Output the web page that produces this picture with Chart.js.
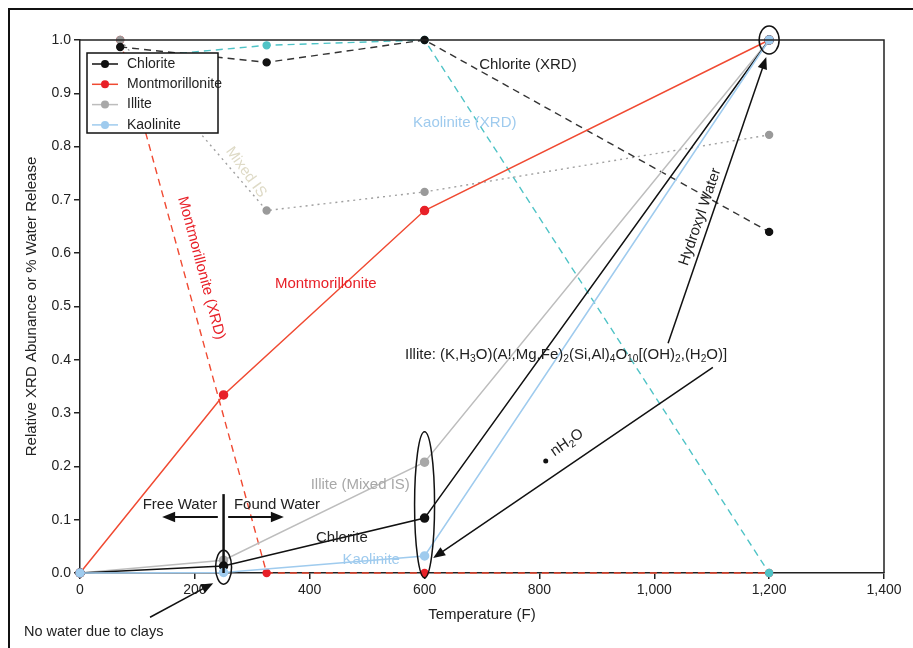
<!DOCTYPE html>
<html>
<head>
<meta charset="utf-8">
<script src="https://cdn.jsdelivr.net/npm/chart.js@4.4.1/dist/chart.umd.min.js"></script>
<style>
  html, body { margin: 0; padding: 0; background: #fff; }
  #wrap { width: 913px; height: 648px; }
</style>
</head>
<body>
<div id="wrap"><canvas id="clayChart" width="913" height="648"></canvas></div>
<script>
// 数据：温度 (F)
const waterTemps = [0, 250, 600, 1200];
const xrdTemps = [70, 325, 600, 1200];

// 水释放（实线）
const chloriteWater = [0, 0.013, 0.103, 1.0];
const montWater = [0, 0.334, 0.68, 1.0];
const illiteWater = [0, 0.024, 0.208, 1.0];
const kaoliniteWater = [0, 0.001, 0.032, 1.0];

// XRD 丰度（虚线）
const chloriteXrd = [0.987, 0.958, 1.0, 0.64];
const montXrd = [1.0, 0, 0, 0];
const illiteXrd = [1.0, 0.68, 0.715, 0.822];
const kaoliniteXrd = [0.965, 0.99, 1.0, 0];

const seriesNames = ['Chlorite', 'Montmorillonite', 'Illite', 'Kaolinite'];
const xTicks = [0, 200, 400, 600, 800, 1000, 1200, 1400];
const yTicks = [0, 0.1, 0.2, 0.3, 0.4, 0.5, 0.6, 0.7, 0.8, 0.9, 1.0];

const FONT = "'Liberation Sans', Arial, Helvetica, sans-serif";
const C_BLACK = '#111111';
const C_RED = '#f04a32';
const C_REDPT = '#e82028';
const C_GRAY = '#bdbdbd';
const C_GRAYPT = '#a8a8a8';
const C_BLUE = '#9fcbee';
const C_CYAN = '#4fc3c6';

function pts(xs, ys) {
    return xs.map((x, i) => ({ x: x, y: ys[i] }));
}

function solid(label, data, line, pt, order) {
    return {
        label: label, data: data, borderColor: line, backgroundColor: pt,
        pointBackgroundColor: pt, pointBorderColor: pt, pointRadius: 4,
        borderWidth: 1.5, tension: 0, clip: false, order: order
    };
}

function dashed(label, data, line, pt, dash) {
    return {
        label: label, data: data, borderColor: line, backgroundColor: pt,
        pointBackgroundColor: pt, pointBorderColor: pt, pointRadius: 3.5,
        borderWidth: 1.4, borderDash: dash, tension: 0, clip: false, order: 3
    };
}

// 文本 / 注释辅助
function rotText(ctx, text, x, y, deg, color, size) {
    ctx.save();
    ctx.translate(x, y);
    ctx.rotate(deg * Math.PI / 180);
    ctx.fillStyle = color;
    ctx.font = size + 'px ' + FONT;
    ctx.textAlign = 'center';
    ctx.textBaseline = 'middle';
    ctx.fillText(text, 0, 0);
    ctx.restore();
}

function arrow(ctx, x1, y1, x2, y2, head, width) {
    const ang = Math.atan2(y2 - y1, x2 - x1);
    ctx.lineWidth = width;
    ctx.beginPath();
    ctx.moveTo(x1, y1);
    ctx.lineTo(x2 - head * 0.8 * Math.cos(ang), y2 - head * 0.8 * Math.sin(ang));
    ctx.stroke();
    ctx.beginPath();
    ctx.moveTo(x2, y2);
    ctx.lineTo(x2 - head * Math.cos(ang - 0.38), y2 - head * Math.sin(ang - 0.38));
    ctx.lineTo(x2 - head * Math.cos(ang + 0.38), y2 - head * Math.sin(ang + 0.38));
    ctx.closePath();
    ctx.fill();
}

function ellipse(ctx, cx, cy, rx, ry) {
    ctx.beginPath();
    ctx.ellipse(cx, cy, rx, ry, 0, 0, Math.PI * 2);
    ctx.stroke();
}

// 分段绘制带下标的文字
function subText(ctx, parts, x, y, size) {
    let cx = x;
    parts.forEach(p => {
        const sub = p[1];
        ctx.font = (sub ? size * 0.68 : size) + 'px ' + FONT;
        ctx.fillText(p[0], cx, sub ? y + size * 0.3 : y);
        cx += ctx.measureText(p[0]).width;
    });
}

const annotations = {
    id: 'annotations',
    afterDraw(chart) {
        const { ctx, chartArea: a, scales: { x, y } } = chart;
        const px = v => x.getPixelForValue(v);
        const py = v => y.getPixelForValue(v);
        ctx.save();

        // 外框
        ctx.strokeStyle = '#111';
        ctx.lineWidth = 2;
        ctx.beginPath();
        ctx.moveTo(9, 648);
        ctx.lineTo(9, 9);
        ctx.lineTo(913, 9);
        ctx.stroke();

        // 绘图区上/右边框
        ctx.strokeStyle = '#222';
        ctx.lineWidth = 1.5;
        ctx.beginPath();
        ctx.moveTo(a.left, a.top);
        ctx.lineTo(a.right, a.top);
        ctx.lineTo(a.right, a.bottom);
        ctx.stroke();

        // 图例
        ctx.fillStyle = '#fff';
        ctx.fillRect(87, 53, 131, 80);
        ctx.strokeStyle = '#111';
        ctx.lineWidth = 1.5;
        ctx.strokeRect(87, 53, 131, 80);
        const legColors = [[C_BLACK, C_BLACK], [C_RED, C_REDPT], [C_GRAY, C_GRAYPT], [C_BLUE, C_BLUE]];
        seriesNames.forEach((name, i) => {
            const ly = 64 + i * 20.3;
            ctx.strokeStyle = legColors[i][0];
            ctx.lineWidth = 1.5;
            ctx.beginPath();
            ctx.moveTo(92, ly);
            ctx.lineTo(118, ly);
            ctx.stroke();
            ctx.fillStyle = legColors[i][1];
            ctx.beginPath();
            ctx.arc(105, ly, 4, 0, Math.PI * 2);
            ctx.fill();
            ctx.fillStyle = '#222';
            ctx.font = '14px ' + FONT;
            ctx.textAlign = 'left';
            ctx.textBaseline = 'middle';
            ctx.fillText(name, 127, ly);
        });

        // 文字标签
        rotText(ctx, 'Chlorite (XRD)', px(780), py(0.953), 0, '#222', 15);
        rotText(ctx, 'Kaolinite (XRD)', px(670), py(0.844), 0, C_BLUE, 15);
        rotText(ctx, 'Mixed IS', px(289), py(0.752), 54, '#dedac6', 15);
        rotText(ctx, 'Montmorillonite (XRD)', px(211), py(0.572), 75, C_REDPT, 15);
        rotText(ctx, 'Montmorillonite', px(428), py(0.542), 0, C_REDPT, 15);
        rotText(ctx, 'Hydroxyl Water', px(1080), py(0.668), -71, '#222', 15);
        rotText(ctx, 'Illite (Mixed IS)', px(488), py(0.165), 0, '#a8a8a8', 15);
        rotText(ctx, 'Free Water', px(174), py(0.128), 0, '#222', 15);
        rotText(ctx, 'Found Water', px(343), py(0.128), 0, '#222', 15);
        rotText(ctx, 'Chlorite', px(456), py(0.066), 0, '#222', 15);
        rotText(ctx, 'Kaolinite', px(507), py(0.024), 0, C_BLUE, 15);

        // 伊利石化学式
        ctx.fillStyle = '#222';
        ctx.textAlign = 'left';
        ctx.textBaseline = 'middle';
        subText(ctx, [
            ['Illite: (K,H', 0], ['3', 1], ['O)(A!,Mg,Fe)', 0], ['2', 1],
            ['(Si,Al)', 0], ['4', 1], ['O', 0], ['10', 1], ['[(OH)', 0], ['2', 1],
            [',(H', 0], ['2', 1], ['O)]', 0]
        ], px(566), py(0.409), 15);

        // nH2O
        ctx.save();
        ctx.translate(px(822), py(0.225));
        ctx.rotate(-35 * Math.PI / 180);
        ctx.fillStyle = '#222';
        subText(ctx, [['nH', 0], ['2', 1], ['O', 0]], 0, 0, 15);
        ctx.restore();
        ctx.fillStyle = '#111';
        ctx.beginPath();
        ctx.arc(px(811), py(0.21), 2.5, 0, Math.PI * 2);
        ctx.fill();

        // 椭圆
        ctx.strokeStyle = '#111';
        ctx.lineWidth = 1.5;
        ellipse(ctx, px(1200), py(1.0), 10, 14);
        ellipse(ctx, px(600), py(0.128), 10, 73);
        ellipse(ctx, px(250), py(0.011), 8, 17);

        // 箭头
        ctx.fillStyle = '#111';
        ctx.strokeStyle = '#111';
        arrow(ctx, px(1024), py(0.431), px(1195), py(0.968), 13, 1.5);
        arrow(ctx, px(1102), py(0.386), px(615), py(0.028), 13, 1.5);
        arrow(ctx, px(122), py(-0.083), px(232), py(-0.019), 13, 1.5);
        arrow(ctx, px(240), py(0.105), px(143), py(0.105), 14, 2);
        arrow(ctx, px(258), py(0.105), px(355), py(0.105), 14, 2);

        // 自由水 / 结合水 分界线
        ctx.lineWidth = 2.5;
        ctx.beginPath();
        ctx.moveTo(px(250), py(0.148));
        ctx.lineTo(px(250), py(0));
        ctx.stroke();

        ctx.fillStyle = '#222';
        ctx.font = '14.5px ' + FONT;
        ctx.textAlign = 'left';
        ctx.textBaseline = 'middle';
        ctx.fillText('No water due to clays', 24, 632);

        ctx.restore();
    }
};

document.addEventListener('DOMContentLoaded', function() {
    Chart.defaults.font.family = FONT;
    Chart.defaults.color = '#222';
    const ctx = document.getElementById('clayChart').getContext('2d');
    new Chart(ctx, {
        type: 'line',
        data: {
            datasets: [
                solid('Kaolinite', pts(waterTemps, kaoliniteWater), C_BLUE, C_BLUE, 0),
                solid('Chlorite', pts(waterTemps, chloriteWater), C_BLACK, C_BLACK, 1),
                solid('Montmorillonite', pts(waterTemps, montWater), C_RED, C_REDPT, 1),
                solid('Illite', pts(waterTemps, illiteWater), C_GRAY, C_GRAYPT, 2),
                dashed('Chlorite (XRD)', pts(xrdTemps, chloriteXrd), '#333', C_BLACK, [7, 5]),
                dashed('Illite (XRD)', pts(xrdTemps, illiteXrd), '#a0a0a0', '#9a9a9a', [2, 4]),
                dashed('Kaolinite (XRD)', pts(xrdTemps, kaoliniteXrd), C_CYAN, C_CYAN, [7, 5]),
                dashed('Montmorillonite (XRD)', pts(xrdTemps, montXrd), C_RED, C_REDPT, [7, 5])
            ]
        },
        options: {
            responsive: false,
            animation: false,
            layout: { padding: { left: 0, right: 29, top: 40, bottom: 0 } },
            plugins: {
                legend: { display: false },
                tooltip: { enabled: false }
            },
            scales: {
                x: {
                    type: 'linear',
                    min: 0,
                    max: 1400,
                    afterBuildTicks: s => { s.ticks = xTicks.map(v => ({ value: v })); },
                    afterFit: s => { s.height = 75; },
                    ticks: {
                        font: { size: 14 },
                        padding: 3,
                        maxRotation: 0,
                        callback: v => v.toLocaleString('en-US')
                    },
                    grid: { drawOnChartArea: false, drawTicks: true, tickLength: 6, color: '#222', lineWidth: 1.5 },
                    border: { display: true, color: '#222', width: 1.5 },
                    title: {
                        display: true,
                        text: 'Temperature (F)',
                        font: { size: 15 },
                        padding: { top: 0, bottom: 24 }
                    }
                },
                y: {
                    type: 'linear',
                    min: 0,
                    max: 1.0,
                    afterBuildTicks: s => { s.ticks = yTicks.map(v => ({ value: v })); },
                    afterFit: s => { s.width = 80; },
                    ticks: {
                        font: { size: 14 },
                        padding: 3,
                        callback: v => v.toFixed(1)
                    },
                    grid: { drawOnChartArea: false, drawTicks: true, tickLength: 6, color: '#222', lineWidth: 1.5 },
                    border: { display: true, color: '#222', width: 1.5 },
                    title: {
                        display: true,
                        text: 'Relative XRD Abunance or % Water Release',
                        font: { size: 15 },
                        padding: { top: 23, bottom: 0 }
                    }
                }
            }
        },
        plugins: [annotations]
    });
});
</script>
</body>
</html>
